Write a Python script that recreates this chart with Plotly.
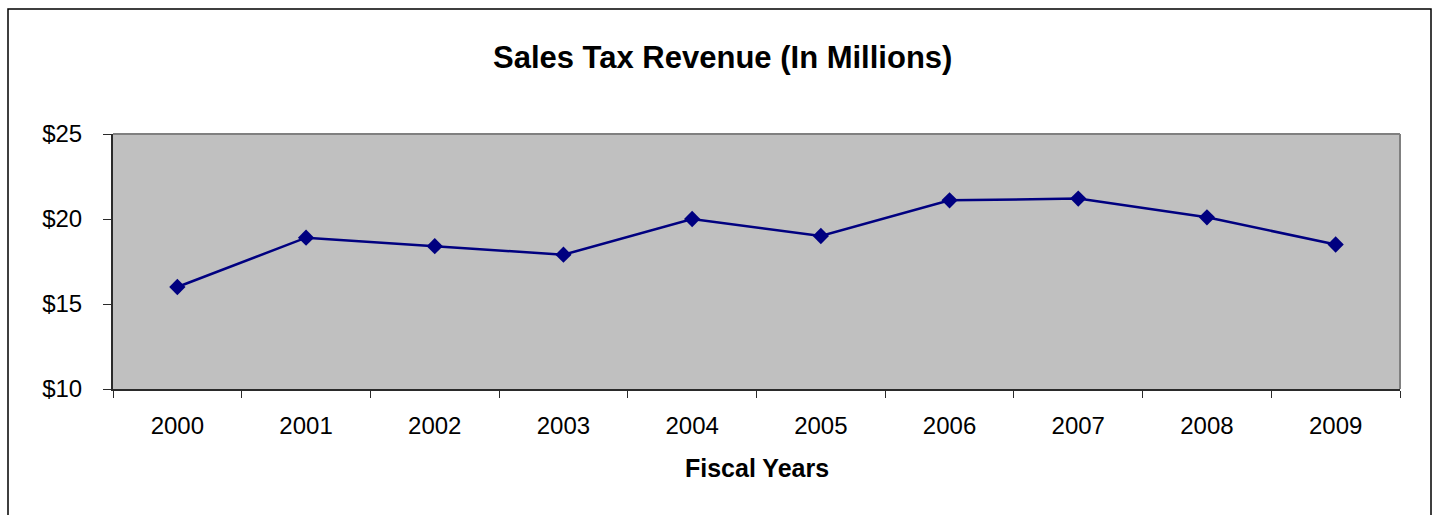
import plotly.graph_objects as go

# Fiscal years and sales tax revenue (millions of dollars)
years = ["2000", "2001", "2002", "2003", "2004", "2005", "2006", "2007", "2008", "2009"]
revenue = [16.0, 18.9, 18.4, 17.9, 20.0, 19.0, 21.1, 21.2, 20.1, 18.5]
y_ticks = [10, 15, 20, 25]
y_tick_labels = ["$10", "$15", "$20", "$25"]

W, H = 1435, 515
ML, MR, MT, MB = 113, 35, 134, 126
plot_w = W - ML - MR
plot_h = H - MT - MB

FONT = "Liberation Sans, Arial, sans-serif"
AXIS_DARK = "#2a2a2a"
NAVY = "#000080"


def px_x(px):
    return (px - ML) / plot_w


def px_y(py):
    return (H - MB - py) / plot_h


fig = go.Figure()
fig.add_trace(go.Scatter(
    x=years,
    y=revenue,
    mode="lines+markers",
    line=dict(color=NAVY, width=2.5),
    marker=dict(symbol="diamond", size=12.5, color=NAVY, line=dict(width=0)),
    hoverinfo="x+y",
    showlegend=False,
))

fig.update_layout(
    width=W,
    height=H,
    margin=dict(l=ML, r=MR, t=MT, b=MB, pad=0),
    paper_bgcolor="white",
    plot_bgcolor="#C0C0C0",
    font=dict(family=FONT, size=24, color="black"),
    showlegend=False,
    xaxis=dict(
        type="category",
        range=[-0.5, len(years) - 0.5],
        tickson="boundaries",
        ticks="outside",
        ticklen=7,
        tickwidth=1,
        tickcolor=AXIS_DARK,
        showline=True,
        linecolor=AXIS_DARK,
        linewidth=2,
        showgrid=False,
        zeroline=False,
        ticklabelstandoff=14,
        tickfont=dict(family=FONT, size=24, color="black"),
    ),
    yaxis=dict(
        range=[10, 25],
        tickvals=y_ticks,
        ticktext=y_tick_labels,
        ticks="outside",
        ticklen=8,
        tickwidth=1,
        tickcolor=AXIS_DARK,
        showline=True,
        linecolor=AXIS_DARK,
        linewidth=2,
        showgrid=False,
        zeroline=False,
        ticklabelstandoff=16,
        tickfont=dict(family=FONT, size=24, color="black"),
    ),
    shapes=[
        # plot area border, top and right edges
        dict(type="line", xref="paper", yref="paper", x0=0, x1=1, y0=1, y1=1,
             line=dict(color="#808080", width=2), layer="above"),
        dict(type="line", xref="paper", yref="paper", x0=1, x1=1, y0=0, y1=1,
             line=dict(color="#808080", width=2), layer="above"),
        # chart frame
        dict(type="rect", xref="paper", yref="paper",
             x0=px_x(8), x1=px_x(1431), y0=px_y(530), y1=px_y(9),
             line=dict(color="black", width=1.5), fillcolor="rgba(0,0,0,0)",
             layer="above"),
    ],
    annotations=[
        dict(text="<b>Sales Tax Revenue (In Millions)</b>", xref="paper", yref="paper",
             x=px_x(722), y=px_y(58), xanchor="center", yanchor="middle",
             showarrow=False, font=dict(family=FONT, size=31, color="black")),
        dict(text="<b>Fiscal Years</b>", xref="paper", yref="paper",
             x=0.5, y=px_y(468), xanchor="center", yanchor="middle",
             showarrow=False, font=dict(family=FONT, size=25, color="black")),
    ],
)

fig.write_html("out.html")
